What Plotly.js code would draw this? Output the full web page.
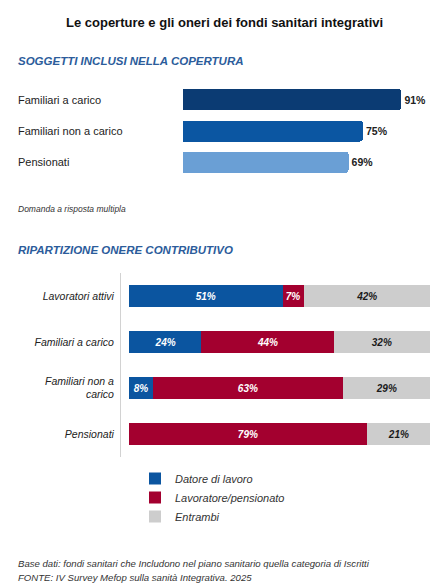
<!DOCTYPE html>
<html>
<head>
<meta charset="utf-8">
<script src="https://cdn.plot.ly/plotly-3.0.1.min.js"></script>
<style>html,body{margin:0;padding:0;background:#fff;}#chart{width:448px;height:588px;}</style>
</head>
<body>
<div id="chart"></div>
<script>
// ---- Data ----
const coverageCategories = ['Familiari a carico', 'Familiari non a carico', 'Pensionati'];
const coverageValues = [91, 75, 69];
const coverageColors = ['#0B3B73', '#0B56A2', '#6A9FD5'];

const splitCategories = ['Lavoratori attivi', 'Familiari a carico', 'Familiari non a carico', 'Pensionati'];
const splitTickLabels = ['Lavoratori attivi', 'Familiari a carico', 'Familiari non a<br>carico', 'Pensionati'];
const seriesNames = ['Datore di lavoro', 'Lavoratore/pensionato', 'Entrambi'];
const datoreValues = [51, 24, 8, 0];
const lavoratoreValues = [7, 44, 63, 79];
const entrambiValues = [42, 32, 29, 21];
const seriesColors = ['#0B55A0', '#A3002F', '#CDCDCD'];
const seriesTextColors = ['#ffffff', '#ffffff', '#1a1a1a'];

const titleText = 'Le coperture e gli oneri dei fondi sanitari integrativi';
const subtitle1 = 'SOGGETTI INCLUSI NELLA COPERTURA';
const subtitle2 = 'RIPARTIZIONE ONERE CONTRIBUTIVO';
const noteText = 'Domanda a risposta multipla';
const footer1 = 'Base dati: fondi sanitari che Includono nel piano sanitario quella categoria di Iscritti';
const footer2 = 'FONTE: IV Survey Mefop sulla sanità Integrativa. 2025';

// ---- Layout helpers ----
const W = 448, H = 588;
const px = v => v / W;
const py = v => 1 - v / H;
const FONT = 'Arial, "Liberation Sans", sans-serif';

const traces = [];
traces.push({
  type: 'bar', orientation: 'h',
  x: coverageValues, y: coverageCategories,
  xaxis: 'x', yaxis: 'y',
  width: 0.67,
  marker: {color: coverageColors, cornerradius: 3},
  text: coverageValues.map(v => v + '%'),
  textposition: 'outside',
  textfont: {family: FONT, size: 10.5, color: '#222', weight: 'bold'},
  cliponaxis: false,
  showlegend: false,
  hoverinfo: 'skip'
});

const splitSeries = [datoreValues, lavoratoreValues, entrambiValues];
splitSeries.forEach((vals, i) => {
  traces.push({
    type: 'bar', orientation: 'h',
    name: seriesNames[i],
    x: vals, y: splitCategories,
    xaxis: 'x2', yaxis: 'y2',
    width: 0.48,
    marker: {color: seriesColors[i]},
    text: vals.map(v => v > 0 ? v + '%' : ''),
    textposition: 'inside',
    insidetextanchor: 'middle',
    textangle: 0,
    constraintext: 'none',
    textfont: {family: FONT, size: 10, color: seriesTextColors[i], weight: 'bold', style: 'italic'},
    hoverinfo: 'skip'
  });
});

const annotations = [
  {text: '<b>' + titleText + '</b>', x: 0.5, y: py(22), xanchor: 'center', yanchor: 'middle',
   font: {family: FONT, size: 13, color: '#111'}},
  {text: '<b><i>' + subtitle1 + '</i></b>', x: px(16), y: py(61), xanchor: 'left', yanchor: 'middle',
   font: {family: FONT, size: 11.5, color: '#2C5C9B'}},
  {text: '<i>' + noteText + '</i>', x: px(16), y: py(209), xanchor: 'left', yanchor: 'middle',
   font: {family: FONT, size: 8.5, color: '#333'}},
  {text: '<b><i>' + subtitle2 + '</i></b>', x: px(16), y: py(250), xanchor: 'left', yanchor: 'middle',
   font: {family: FONT, size: 11.5, color: '#2C5C9B'}},
  {text: '<i>' + footer1 + '</i>', x: px(16), y: py(563), xanchor: 'left', yanchor: 'middle',
   font: {family: FONT, size: 9.6, color: '#333'}},
  {text: '<i>' + footer2 + '</i>', x: px(16), y: py(577), xanchor: 'left', yanchor: 'middle',
   font: {family: FONT, size: 9.6, color: '#333'}}
].map(a => Object.assign({xref: 'paper', yref: 'paper', showarrow: false}, a));

coverageCategories.forEach(c => {
  annotations.push({text: c, xref: 'paper', yref: 'y', x: px(16), y: c, xanchor: 'left', yanchor: 'middle',
    showarrow: false, font: {family: FONT, size: 11, color: '#222'}});
});

const layout = {
  width: W, height: H,
  margin: {l: 0, r: 0, t: 0, b: 0},
  paper_bgcolor: '#fff', plot_bgcolor: '#fff',
  barmode: 'stack',
  font: {family: FONT},
  showlegend: true,
  legend: {
    x: px(135), y: py(464), xanchor: 'left', yanchor: 'top',
    orientation: 'v', traceorder: 'normal',
    font: {family: FONT, size: 11, color: '#333', style: 'italic'},
    itemwidth: 30, bgcolor: 'rgba(0,0,0,0)'
  },
  xaxis: {domain: [px(183), px(423)], range: [0, 100], visible: false, fixedrange: true},
  yaxis: {domain: [py(178), py(84)], type: 'category', autorange: 'reversed', visible: false, fixedrange: true},
  xaxis2: {domain: [px(129), px(430)], range: [0, 100], visible: false, anchor: 'y2', fixedrange: true},
  yaxis2: {
    domain: [py(457), py(273)], type: 'category', autorange: 'reversed',
    anchor: 'free', position: px(120),
    showline: true, linecolor: '#D2D2D2', linewidth: 1,
    showgrid: false, zeroline: false, ticks: '',
    tickvals: splitCategories, ticktext: splitTickLabels,
    tickfont: {family: FONT, size: 10.5, color: '#222', style: 'italic'},
    ticklabelstandoff: 4,
    fixedrange: true
  },
  annotations: annotations
};

Plotly.newPlot('chart', traces, layout, {displayModeBar: false, staticPlot: true});
</script>
</body>
</html>
